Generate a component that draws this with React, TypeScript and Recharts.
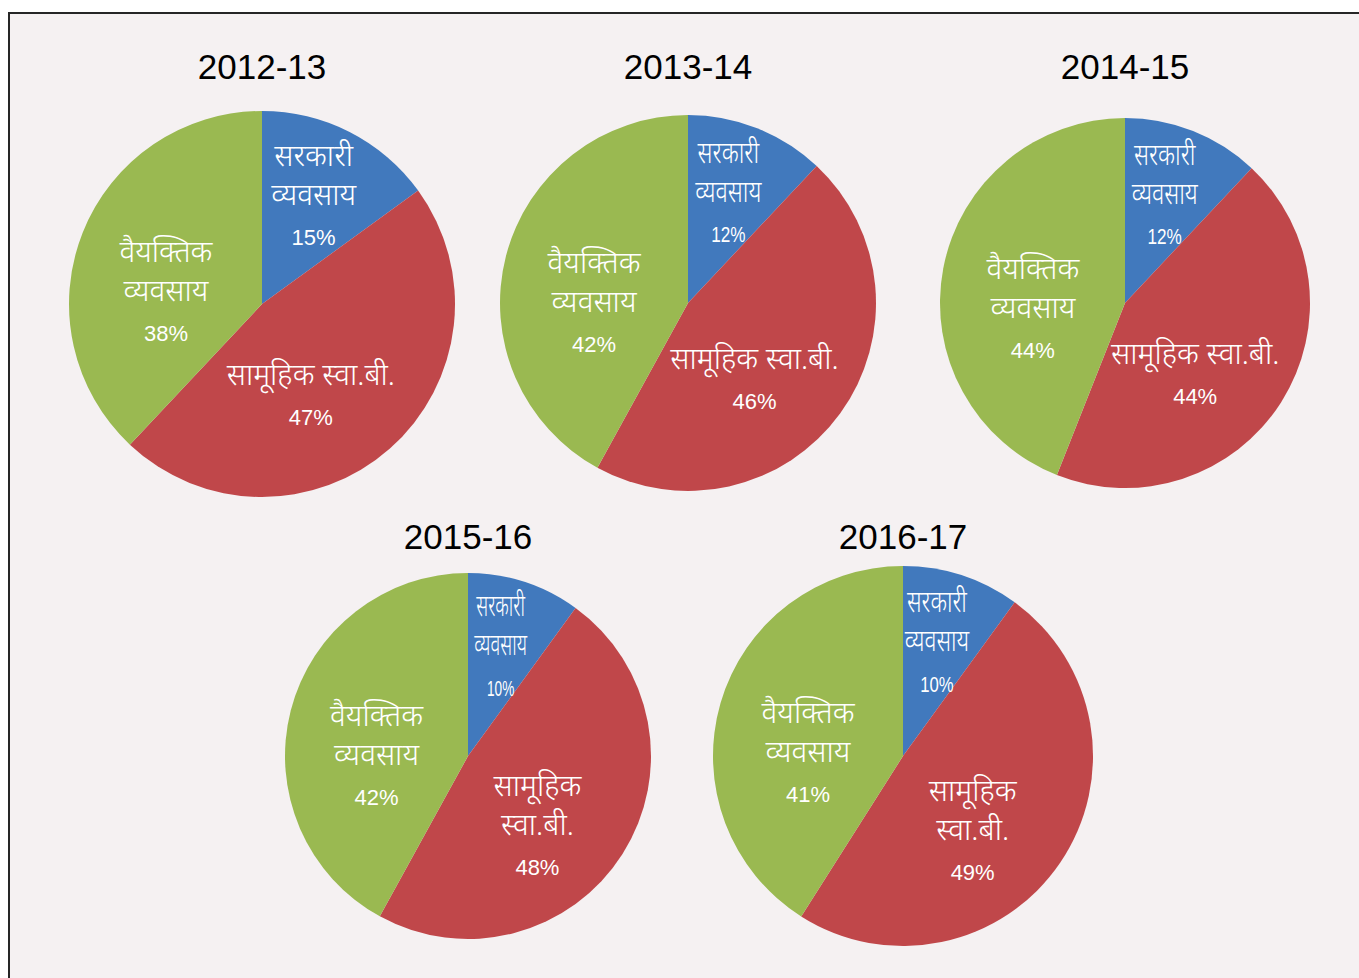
import React from 'react';
import { PieChart, Pie, Cell } from 'recharts';

const years = ['2012-13', '2013-14', '2014-15', '2015-16', '2016-17'];
const sarkariVyavsay = [15, 12, 12, 10, 10];
const samuhikSHG = [47, 46, 44, 48, 49];
const vaiyaktikVyavsay = [38, 42, 44, 42, 41];
const categories = ['सरकारी व्यवसाय', 'सामूहिक स्वा.बी.', 'वैयक्तिक व्यवसाय'];

// layout (pixels) for each pie
const pieLayout = [
  { cx: 262, cy: 304, r: 193, blueScale: 1, wrapRed: false },
  { cx: 688, cy: 303, r: 188, blueScale: 0.78, wrapRed: false },
  { cx: 1125, cy: 303, r: 185, blueScale: 0.78, wrapRed: false },
  { cx: 468, cy: 756, r: 183, blueScale: 0.62, wrapRed: true },
  { cx: 903, cy: 756, r: 190, blueScale: 0.76, wrapRed: true },
];

const COLORS = ['#4179bd', '#c0474a', '#9ab951'];
// label placement relative to slice: angle offset (deg, clockwise) and radius fraction
const LABEL_OFFSET = [-1, 14, -16];
const LABEL_RADIUS = [0.61, 0.55, 0.5];

const DEV_FONT = "'Noto Sans Devanagari', 'Lohit Devanagari', 'Noto Sans', sans-serif";
const NUM_FONT = "'Liberation Sans', Arial, sans-serif";

function labelLines(catIndex: number, wrapRed: boolean): string[] {
  if (catIndex === 0) return ['सरकारी', 'व्यवसाय'];
  if (catIndex === 1) return wrapRed ? ['सामूहिक', 'स्वा.बी.'] : ['सामूहिक स्वा.बी.'];
  return ['वैयक्तिक', 'व्यवसाय'];
}

function makeLabel(pieIndex: number) {
  const layout = pieLayout[pieIndex];
  return (props: any) => {
    const { cx, cy, midAngle, outerRadius, index, value } = props;
    const fromTop = 90 - midAngle + LABEL_OFFSET[index];
    const rad = (fromTop * Math.PI) / 180;
    const d = outerRadius * LABEL_RADIUS[index];
    const x = cx + d * Math.sin(rad);
    const y = cy - d * Math.cos(rad);
    const lines = labelLines(index, layout.wrapRed);
    const all = [...lines, `${value}%`];
    const lh = 39;
    const scale = index === 0 ? layout.blueScale : 1;
    return (
      <g transform={`translate(${x},${y}) scale(${scale},1)`}>
        {all.map((t, i) => {
          const isNum = i === all.length - 1;
          return (
            <text
              key={i}
              x={0}
              y={(i - (all.length - 1) / 2) * lh + (isNum ? 0 : -1)}
              textAnchor="middle"
              dominantBaseline="central"
              fill="#ffffff"
              fontFamily={isNum ? NUM_FONT : DEV_FONT}
              fontSize={isNum ? 22 : 30}
              fontWeight={isNum ? 400 : 300}
            >
              {t}
            </text>
          );
        })}
      </g>
    );
  };
}

export default function App() {
  const datasets = years.map((y, i) => [
    { name: categories[0], value: sarkariVyavsay[i] },
    { name: categories[1], value: samuhikSHG[i] },
    { name: categories[2], value: vaiyaktikVyavsay[i] },
  ]);
  return (
    <div style={{ position: 'absolute', left: 0, top: 0, width: 1359, height: 978, overflow: 'hidden', background: '#ffffff' }}>
      <div
        style={{
          position: 'absolute',
          left: 8,
          top: 12,
          width: 1400,
          height: 1000,
          borderLeft: '2px solid #262626',
          borderTop: '2px solid #262626',
          background: '#f5f1f2',
        }}
      />
      <div style={{ position: 'absolute', left: 0, top: 0 }}>
        <PieChart width={1359} height={978} margin={{ top: 0, right: 0, bottom: 0, left: 0 }}>
          {datasets.map((data, i) => (
            <Pie
              key={years[i]}
              data={data}
              dataKey="value"
              nameKey="name"
              cx={pieLayout[i].cx}
              cy={pieLayout[i].cy}
              outerRadius={pieLayout[i].r}
              startAngle={90}
              endAngle={-270}
              stroke="none"
              isAnimationActive={false}
              labelLine={false}
              label={makeLabel(i)}
            >
              {data.map((_, j) => (
                <Cell key={j} fill={COLORS[j]} />
              ))}
            </Pie>
          ))}
        </PieChart>
      </div>
      {years.map((y, i) => (
        <div
          key={y}
          style={{
            position: 'absolute',
            left: pieLayout[i].cx - 100,
            width: 200,
            top: i < 3 ? 47 : 517,
            textAlign: 'center',
            fontFamily: NUM_FONT,
            fontSize: 35,
            lineHeight: '40px',
            color: '#000000',
          }}
        >
          {y}
        </div>
      ))}
    </div>
  );
}
